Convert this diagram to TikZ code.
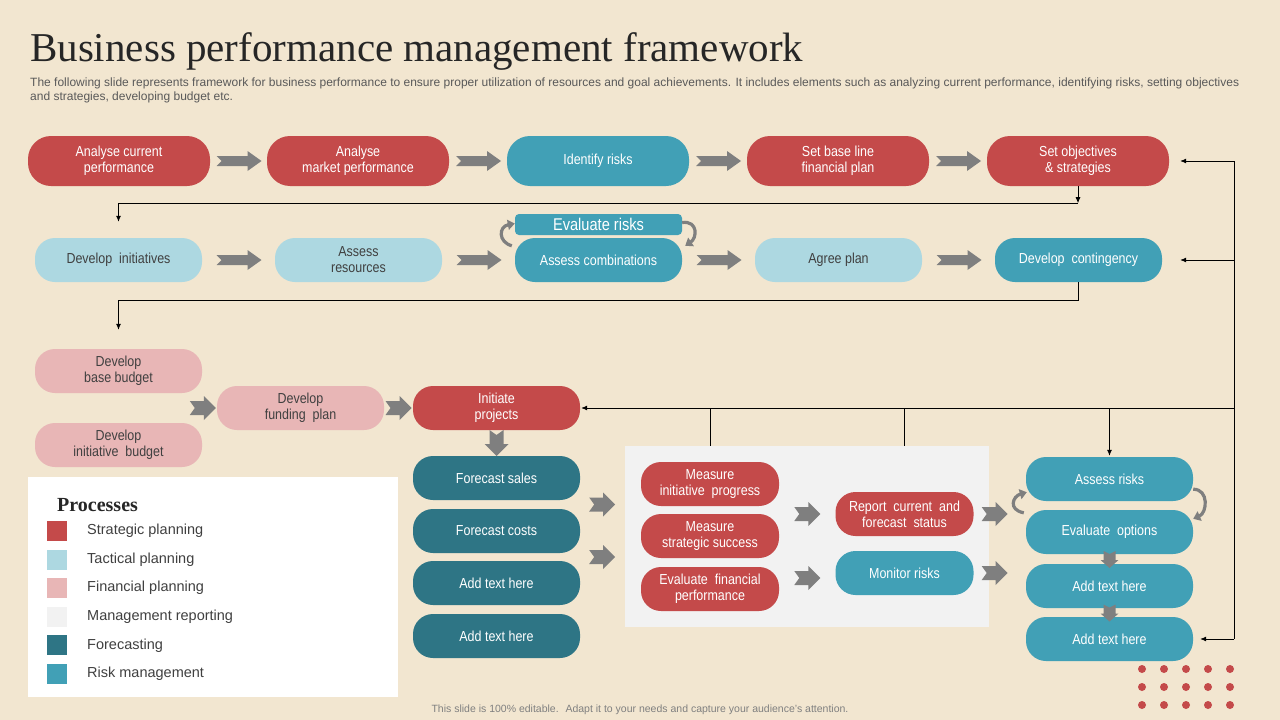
\documentclass[tikz,border=0pt]{standalone}
\usepackage{fontspec}
\setmainfont{Liberation Sans}
\newfontfamily\narrowfont{Liberation Sans}[FakeStretch=0.86]
\newfontfamily\titlefont{Liberation Serif}
\usetikzlibrary{arrows.meta,calc}

\definecolor{bgcream}{HTML}{F2E6D0}
\definecolor{stratred}{HTML}{C44A4A}
\definecolor{tactblue}{HTML}{ADD8E1}
\definecolor{finpink}{HTML}{E8B6B6}
\definecolor{mgmtgray}{HTML}{F2F2F2}
\definecolor{foreteal}{HTML}{2E7585}
\definecolor{riskteal}{HTML}{41A0B6}
\definecolor{arrowgray}{HTML}{7F7F7F}
\definecolor{textgray}{HTML}{404040}

% fat gray arrows between the boxes
\newcommand{\fatarrow}[2][0]{\fill[arrowgray,shift={(#2)},rotate=#1] (-22,-5) -- (9,-5) -- (9,-10) -- (23,0) -- (9,10) -- (9,5) -- (-22,5) -- (-17,0) -- cycle;}
\newcommand{\chevarrow}[2][0]{\fill[arrowgray,shift={(#2)},rotate=#1] (-13,-7) -- (1,-7) -- (1,-12) -- (13,0) -- (1,12) -- (1,7) -- (-13,7) -- (-8,0) -- cycle;}
\newcommand{\minichev}[1]{\fill[arrowgray,shift={(#1)}] (-6,-8) -- (-6,1) -- (-9,1) -- (0,9) -- (9,1) -- (6,1) -- (6,-8) -- (0,-5) -- cycle;}

\begin{document}
\begin{tikzpicture}[x=1pt, y=-1pt,
    box/.style={rounded corners=20pt, minimum width=167pt, minimum height=44pt, inner sep=0pt, align=center, font=\narrowfont\fontsize{14.5}{16}\selectfont},
    bigbox/.style={box, rounded corners=23pt, minimum width=182pt, minimum height=50pt},
    smallbox/.style={box, minimum width=138pt},
    strat/.style={fill=stratred, text=white},
    tact/.style={fill=tactblue, text=textgray},
    fin/.style={fill=finpink, text=textgray},
    fore/.style={fill=foreteal, text=white},
    risk/.style={fill=riskteal, text=white},
    line/.style={line width=0.8pt},
    conn/.style={line, -{Latex[length=6pt,width=5pt]}},
    curvearr/.style={draw=arrowgray, line width=3.2pt, -{Triangle[length=7pt,width=10pt]}}]

    \fill[bgcream] (0,0) rectangle (1280,720);
    \useasboundingbox (0,0) rectangle (1280,720);

    % title
    \node[anchor=base west, inner sep=0pt, text=black!85, font=\titlefont\fontsize{41}{48}\selectfont] (title) at (30,61) {Business performance management framework};
    \node[anchor=north west, inner sep=0pt, align=left, text=black!65, font=\fontsize{12}{14}\selectfont] (subtitle) at (30,78) {The following slide represents framework for business performance to ensure proper utilization of resources and goal achievements. It includes elements such as analyzing current performance, identifying risks, setting objectives\\and strategies, developing budget etc.};

    % row 1
    \node[bigbox, strat] (acp) at (119,161) {Analyse current\\performance};
    \node[bigbox, strat] (amp) at (358,161) {Analyse\\market performance};
    \node[bigbox, risk] (idr) at (598,161) {Identify risks};
    \node[bigbox, strat] (sbl) at (838,161) {Set base line\\financial plan};
    \node[bigbox, strat] (sos) at (1078,161) {Set objectives\\\& strategies};
    \fatarrow{$(acp.east)!.5!(amp.west)$}
    \fatarrow{$(amp.east)!.5!(idr.west)$}
    \fatarrow{$(idr.east)!.5!(sbl.west)$}
    \fatarrow{$(sbl.east)!.5!(sos.west)$}

    % row 2
    \node[box, tact] (dvi) at (118.5,260) {Develop~~initiatives};
    \node[box, tact] (asr) at (358.5,260) {Assess\\resources};
    \node[box, risk] (asc) at (598.5,260) {Assess combinations};
    \node[box, risk, rounded corners=4pt, minimum height=21pt, font=\narrowfont\fontsize{17}{18}\selectfont] (evr) at (598.5,224.5) {Evaluate risks};
    \node[box, tact] (agp) at (838.5,260) {Agree plan};
    \node[box, risk] (dvc) at (1078.5,260) {Develop~~contingency};
    \fatarrow{$(dvi.east)!.5!(asr.west)$}
    \fatarrow{$(asr.east)!.5!(asc.west)$}
    \fatarrow{$(asc.east)!.5!(agp.west)$}
    \fatarrow{$(agp.east)!.5!(dvc.west)$}
    \draw[curvearr] ($(asc.north west)+(-3,8)$) .. controls +(-14,-4) and +(-16,3) .. ($(evr.west)+(0,-1)$);
    \draw[curvearr] ($(evr.east)+(0,-2)$) .. controls +(16,-2) and +(12,-8) .. ($(asc.north east)+(3,8)$);

    % row 3
    \node[box, fin] (dbb) at (118.5,371) {Develop\\base budget};
    \node[box, fin] (dib) at (118.5,445) {Develop\\initiative~~budget};
    \node[box, fin] (dfp) at (300.5,408) {Develop\\funding~~plan};
    \node[box, strat] (inp) at (496.5,408) {Initiate\\projects};
    \chevarrow{$(dfp.west)+(-14,0)$}
    \chevarrow{$(dfp.east)!.5!(inp.west)$}

    % forecasting
    \node[box, fore] (fcs) at (496.5,478) {Forecast sales};
    \node[box, fore] (fcc) at (496.5,531) {Forecast costs};
    \node[box, fore] (fa1) at (496.5,583) {Add text here};
    \node[box, fore] (fa2) at (496.5,636) {Add text here};
    \chevarrow[-90]{$(inp.south)!.5!(fcs.north)$}

    % management reporting
    \node[fill=mgmtgray, minimum width=364pt, minimum height=181pt, inner sep=0pt] (mrep) at (807,536.5) {};
    \node[smallbox, strat] (mip) at (710,484) {Measure\\initiative~~progress};
    \node[smallbox, strat] (mss) at (710,536) {Measure\\strategic success};
    \node[smallbox, strat] (efp) at (710,589) {Evaluate~~financial\\performance};
    \node[smallbox, strat] (rcf) at (904.5,514) {Report~~current~~and\\forecast~~status};
    \node[smallbox, risk] (mor) at (904.5,573) {Monitor risks};
    \chevarrow{$(fcs.east)!.5!(fcc.east)+(22,0)$}
    \chevarrow{$(fcc.east)!.5!(fa1.east)+(22,0)$}
    \chevarrow{$(rcf.west)+(-28,0)$}
    \chevarrow{$(mor.west)+(-28,5)$}
    \chevarrow{$(rcf.east)+(21,0)$}
    \chevarrow{$(mor.east)+(21,0)$}

    % risk management
    \node[box, risk] (ark) at (1109.5,479) {Assess risks};
    \node[box, risk] (evo) at (1109.5,532) {Evaluate~~options};
    \node[box, risk] (ra1) at (1109.5,586) {Add text here};
    \node[box, risk] (ra2) at (1109.5,639) {Add text here};
    \minichev{$(evo.south)!.5!(ra1.north)$}
    \minichev{$(ra1.south)!.5!(ra2.north)$}
    \draw[curvearr] ($(evo.north west)+(-2,3)$) .. controls +(-16,-3) and +(-14,4) .. ($(ark.south west)+(1,-9)$);
    \draw[curvearr] ($(ark.south east)+(0,-12)$) .. controls +(16,0) and +(14,-6) .. ($(evo.north east)+(0,9)$);

    % black connectors
    \coordinate (c1) at ($(sos.south)+(0,17)$);
    \draw[conn] (sos.south) -- (c1);
    \draw[conn, shorten >=16pt] (c1) -| (dvi.north);
    \coordinate (c2) at ($(dvc.south)+(0,18)$);
    \draw[line] (dvc.south) -- (c2);
    \draw[conn, shorten >=19pt] (c2) -| (dbb.north);

    \coordinate (bt) at (1234,161);
    \coordinate (bb) at (1234,639);
    \coordinate (bm) at (bt |- inp);
    \draw[line] (bt) -- (bb);
    \draw[conn, shorten >=11pt] (bt) -- (sos.east);
    \draw[conn, shorten >=18pt] (bt |- dvc) -- (dvc.east);
    \draw[conn, shorten >=7pt] (bb) -- (ra2.east);
    \draw[conn, shorten >=1pt] (bm) -- (inp.east);
    \draw[line] (mip |- inp) -- (mip |- mrep.north);
    \draw[line] (rcf |- inp) -- (rcf |- mrep.north);
    \draw[conn, shorten >=1pt] (ark |- inp) -- (ark.north);

    % legend
    \node[fill=white, minimum width=370pt, minimum height=220pt, inner sep=0pt, anchor=north west] (legend) at (28,477) {};
    \node[anchor=west, inner sep=0pt, text=black!85, font=\titlefont\bfseries\fontsize{20}{24}\selectfont] (legtitle) at (57,505) {Processes};
    \foreach \col/\lab [count=\i] in {stratred/Strategic planning, tactblue/Tactical planning, finpink/Financial planning, mgmtgray/Management reporting, foreteal/Forecasting, riskteal/Risk management} {
        \node[fill=\col, minimum size=20pt, inner sep=0pt] (sw\i) at (57,{531+28.6*(\i-1)}) {};
        \node[anchor=west, inner sep=0pt, text=textgray, font=\fontsize{14.5}{17}\selectfont] (lb\i) at (87,{531+28.6*(\i-1)}) {\lab};
    }

    % dots
    \foreach \i in {0,...,4}
        \foreach \j in {0,1,2}
            \fill[stratred] (1142+22*\i,669+18*\j) circle[radius=4pt];

    \node[text=black!50, font=\fontsize{10.5}{12}\selectfont] (footer) at (640,710) {This slide is 100\% editable.~ Adapt it to your needs and capture your audience's attention.};
\end{tikzpicture}
\end{document}
